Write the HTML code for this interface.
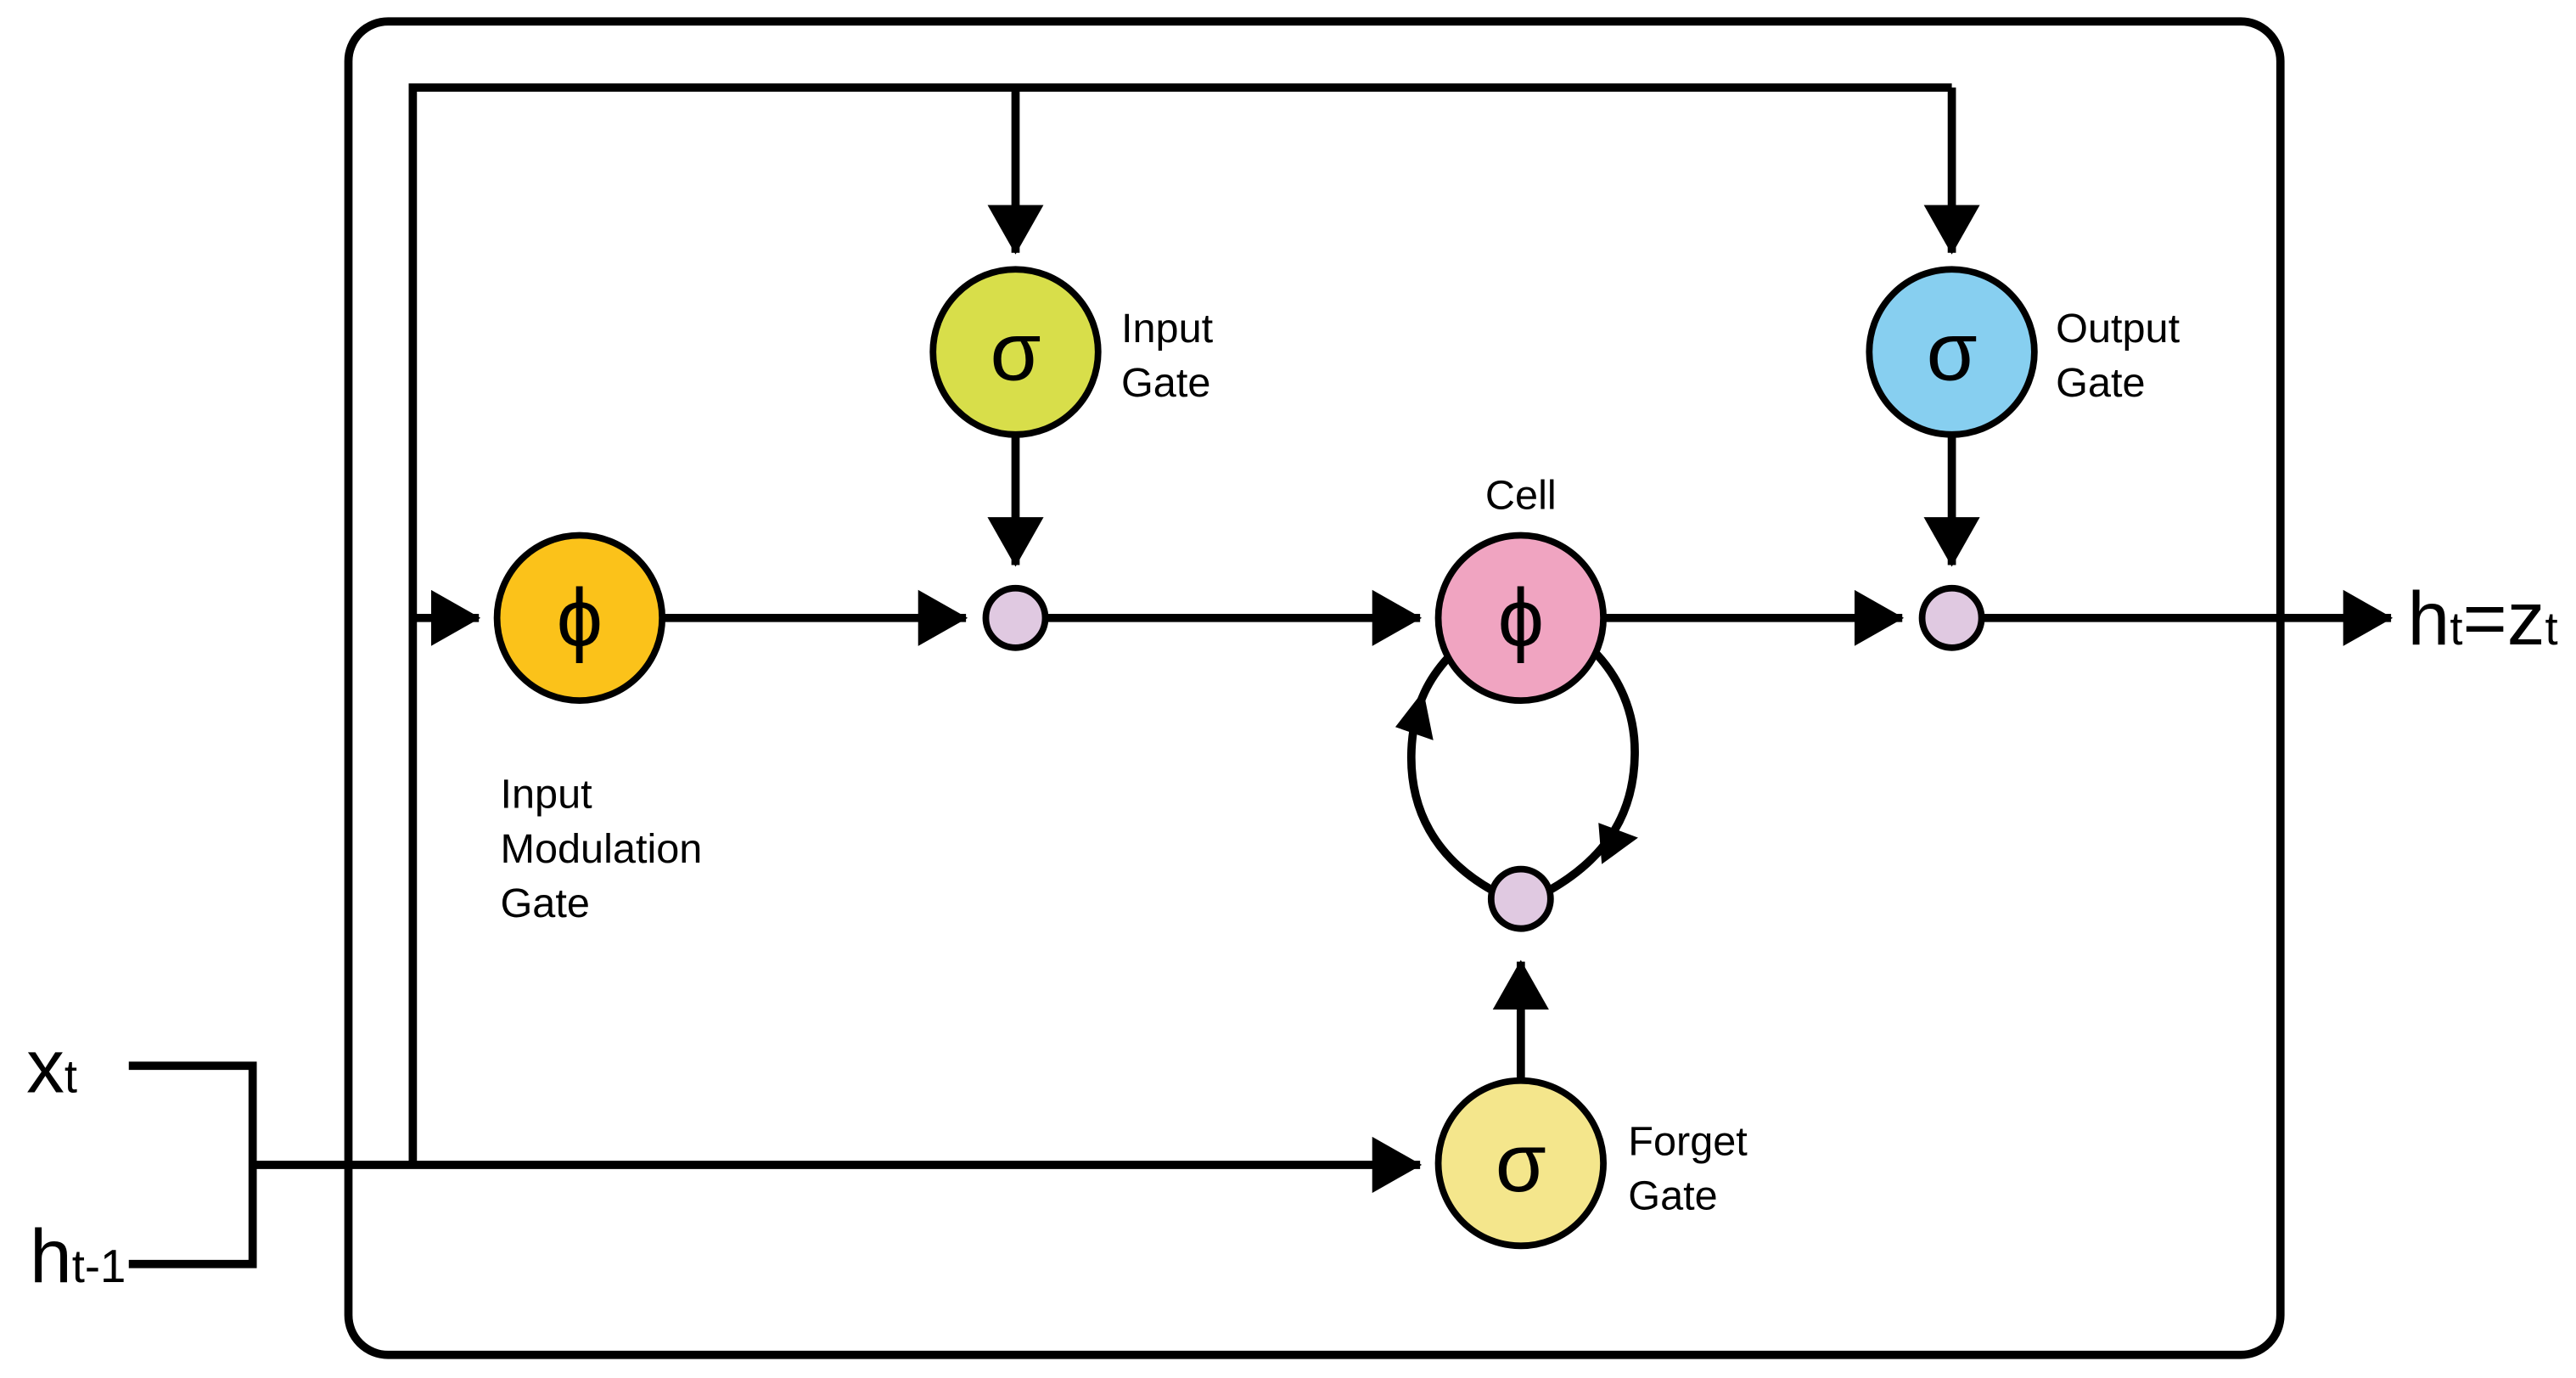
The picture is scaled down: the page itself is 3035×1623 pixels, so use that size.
<!DOCTYPE html>
<html><head><meta charset="utf-8"><style>
html,body{margin:0;padding:0;background:#fff;}
svg{display:block;}
text{font-family:"Liberation Sans","DejaVu Sans",sans-serif;fill:#000;}
</style></head><body>
<svg width="3035" height="1623" viewBox="0 0 1560 834" preserveAspectRatio="none" xmlns="http://www.w3.org/2000/svg">
<defs>
<marker id="a" viewBox="0 0 30 34" refX="29" refY="17" markerWidth="30" markerHeight="34" markerUnits="userSpaceOnUse" orient="auto">
<path d="M0,0 L30,17 L0,34 Z" fill="#000"/>
</marker>
</defs>
<rect x="211" y="13" width="1170" height="807" rx="24" fill="none" stroke="#000" stroke-width="5"/>
<g fill="none" stroke="#000" stroke-width="5">
<polyline points="250,703 250,53 1182,53"/>
<line x1="615" y1="53" x2="615" y2="153" marker-end="url(#a)"/>
<line x1="1182" y1="53" x2="1182" y2="153" marker-end="url(#a)"/>
<line x1="615" y1="263" x2="615" y2="342" marker-end="url(#a)"/>
<line x1="1182" y1="263" x2="1182" y2="342" marker-end="url(#a)"/>
<line x1="250" y1="374" x2="290" y2="374" marker-end="url(#a)"/>
<line x1="401" y1="374" x2="585" y2="374" marker-end="url(#a)"/>
<line x1="633" y1="374" x2="860" y2="374" marker-end="url(#a)"/>
<line x1="971" y1="374" x2="1152" y2="374" marker-end="url(#a)"/>
<line x1="1200" y1="374" x2="1448" y2="374" marker-end="url(#a)"/>
<line x1="153" y1="705" x2="860" y2="705" marker-end="url(#a)"/>
<line x1="921" y1="654" x2="921" y2="582" marker-end="url(#a)"/>
<polyline points="78,645 153,645 153,765 78,765"/>
<path d="M904,539 C870,520 852,490 855,450 C857,425 866,410 877,398"/>
<path d="M938,539 C975,518 990,490 990,455 C990,430 980,410 967,396"/>
</g>
<path d="M845,440 L862,418 L868,448 Z" fill="#000"/>
<path d="M968,498 L992,507 L970,523 Z" fill="#000"/>
<g stroke="#000" stroke-width="4">
<circle cx="615" cy="213" r="50" fill="#d8de4a"/>
<circle cx="1182" cy="213" r="50" fill="#87cff0"/>
<circle cx="351" cy="374" r="50" fill="#fbc21a"/>
<circle cx="921" cy="374" r="50" fill="#f0a4c1"/>
<circle cx="921" cy="704" r="50" fill="#f4e68c"/>
<circle cx="615" cy="374" r="18" fill="#e0c9e1"/>
<circle cx="1182" cy="374" r="18" fill="#e0c9e1"/>
<circle cx="921" cy="544" r="18" fill="#e0c9e1"/>
</g>
<g font-size="50" text-anchor="middle" style="font-family:'DejaVu Sans',sans-serif;fill:#222">
<text x="615" y="230">σ</text>
<text x="1182" y="230">σ</text>
<text x="921" y="721">σ</text>
<text x="351" y="391">ϕ</text>
<text x="921" y="391">ϕ</text>
</g>
<g font-size="25">
<text x="679" y="207">Input</text><text x="679" y="240">Gate</text>
<text x="1245" y="207">Output</text><text x="1245" y="240">Gate</text>
<text x="921" y="308" text-anchor="middle">Cell</text>
<text x="303" y="489">Input</text><text x="303" y="522">Modulation</text><text x="303" y="555">Gate</text>
<text x="986" y="699">Forget</text><text x="986" y="732">Gate</text>
</g>
<text x="16" y="661" font-size="46">x<tspan font-size="28">t</tspan></text>
<text x="18" y="776" font-size="46">h<tspan font-size="28">t-1</tspan></text>
<text x="1458" y="390" font-size="46">h<tspan font-size="28">t</tspan>=z<tspan font-size="28">t</tspan></text>
</svg>
</body></html>
